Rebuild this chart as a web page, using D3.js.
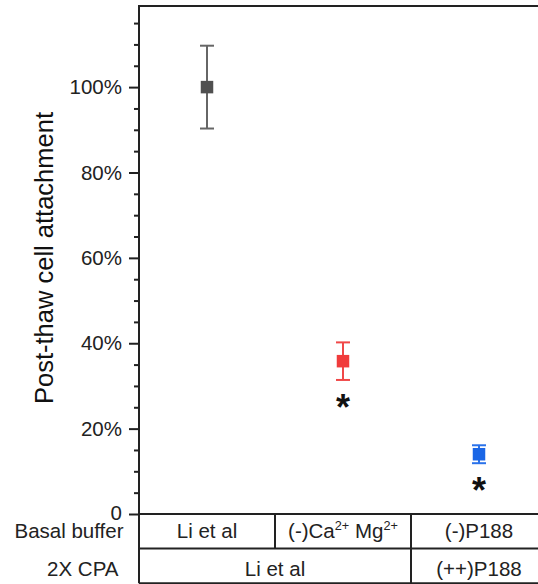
<!DOCTYPE html>
<html>
<head>
<meta charset="utf-8">
<script src="https://cdn.jsdelivr.net/npm/d3@7"></script>
<style>
  html, body { margin: 0; padding: 0; background: #fff; }
  svg { display: block; font-family: "Liberation Sans", Arial, sans-serif; }
</style>
</head>
<body>
<svg id="chart" width="538" height="584"></svg>
<script>
// Groups along the x axis (basal buffer condition)
const groups = ["Li et al", "(-)Ca2+ Mg2+", "(-)P188"];
// Mean post-thaw attachment (%) and error (±%)
const means = [100, 35.8, 14.0];
const errors = [9.7, 4.4, 2.1];
const significant = [false, true, true];
const colors = ["#505050", "#f03c3c", "#1a66e6"];
const barColors = ["#666666", "#f04848", "#2a72ea"];

// Axis ticks
const majorTicks = [0, 20, 40, 60, 80, 100];
const majorLabels = ["0", "20%", "40%", "60%", "80%", "100%"];
const minorTicks = [5, 10, 15, 25, 30, 35, 45, 50, 55, 65, 70, 75, 85, 90, 95, 105, 110, 115];

// Condition table under the axis
const rowTitles = ["Basal buffer", "2X CPA"];
// Each cell spans a run of groups [first, last]
const basalCells = [
  { parts: [["Li et al", false]], from: 0, to: 0 },
  { parts: [["(-)Ca", false], ["2+", true], [" Mg", false], ["2+", true]], from: 1, to: 1 },
  { parts: [["(-)P188", false]], from: 2, to: 2 }
];
const cpaCells = [
  { parts: [["Li et al", false]], from: 0, to: 1 },
  { parts: [["(++)P188", false]], from: 2, to: 2 }
];

const svg = d3.select("#chart");
const plotLeft = 139, plotRight = 547, plotTop = 6, plotBottom = 514;
const rowH = 34.6;

const x = d3.scaleBand().domain(groups).range([plotLeft, plotRight]).padding(0);
const cx = i => x(groups[i]) + x.bandwidth() / 2;
const y = d3.scaleLinear().domain([0, 119]).range([plotBottom, plotTop]);

const labelFont = 20.5;

// Major ticks with labels
const majorAxis = d3.axisLeft(y)
  .tickValues(majorTicks)
  .tickSize(10)
  .tickPadding(7)
  .tickFormat((d, i) => majorLabels[i]);
const gMajor = svg.append("g").attr("transform", `translate(${plotLeft},0)`).call(majorAxis);
gMajor.select(".domain").remove();
gMajor.selectAll("line").attr("stroke", "#222").attr("stroke-width", 2);
gMajor.selectAll("text")
  .attr("font-family", "Liberation Sans, Arial, sans-serif")
  .attr("font-size", labelFont)
  .attr("fill", "#222");
// The zero label sits slightly raised above the table edge
gMajor.selectAll(".tick").filter(d => d === 0).select("text").attr("dy", "0.25em");

// Minor ticks
const minorAxis = d3.axisLeft(y).tickValues(minorTicks).tickSize(5).tickFormat("");
const gMinor = svg.append("g").attr("transform", `translate(${plotLeft},0)`).call(minorAxis);
gMinor.select(".domain").remove();
gMinor.selectAll("line").attr("stroke", "#222").attr("stroke-width", 2);

// Frame: top, left (running through the table) and table grid lines
const frame = svg.append("g").attr("stroke", "#222").attr("stroke-width", 2).attr("fill", "none");
frame.append("line").attr("x1", plotLeft - 1).attr("x2", plotRight).attr("y1", plotTop).attr("y2", plotTop);
frame.append("line").attr("x1", plotLeft).attr("x2", plotLeft).attr("y1", plotTop).attr("y2", plotBottom + 2 * rowH);
frame.append("line").attr("x1", plotRight).attr("x2", plotRight).attr("y1", plotTop).attr("y2", plotBottom + 2 * rowH);
[0, 1, 2].forEach(r => {
  frame.append("line").attr("x1", plotLeft).attr("x2", plotRight)
    .attr("y1", plotBottom + r * rowH).attr("y2", plotBottom + r * rowH);
});

function drawRow(cells, rowIndex, baseline) {
  cells.forEach((c, k) => {
    const x0 = x(groups[c.from]);
    const x1 = x(groups[c.to]) + x.bandwidth();
    if (k > 0) {
      frame.append("line").attr("x1", x0).attr("x2", x0)
        .attr("y1", plotBottom + rowIndex * rowH).attr("y2", plotBottom + (rowIndex + 1) * rowH);
    }
    const t = svg.append("text")
      .attr("x", (x0 + x1) / 2)
      .attr("y", baseline)
      .attr("text-anchor", "middle")
      .attr("font-size", labelFont)
      .attr("fill", "#222");
    c.parts.forEach(([s, sup]) => {
      const ts = t.append("tspan").text(s);
      if (sup) ts.attr("font-size", labelFont * 0.62).attr("baseline-shift", "60%");
    });
  });
}
drawRow(basalCells, 0, 537.5);
drawRow(cpaCells, 1, 575.5);

// Row titles, right-aligned left of the table
svg.append("text").attr("x", 123.5).attr("y", 537.5).attr("text-anchor", "end")
  .attr("font-size", labelFont).attr("fill", "#222").text(rowTitles[0]);
svg.append("text").attr("x", 118.5).attr("y", 575.5).attr("text-anchor", "end")
  .attr("font-size", labelFont).attr("fill", "#222").text(rowTitles[1]);

// Y axis title
svg.append("text")
  .attr("transform", `translate(53,258) rotate(-90)`)
  .attr("text-anchor", "middle")
  .attr("font-size", 25.5)
  .attr("fill", "#111")
  .text("Post-thaw cell attachment");

// Error bars and square markers
const capW = 14, sq = 12.5;
const pts = svg.append("g");
means.forEach((m, i) => {
  const g = pts.append("g").attr("stroke", barColors[i]).attr("stroke-width", 2);
  g.append("line").attr("x1", cx(i)).attr("x2", cx(i))
    .attr("y1", y(m + errors[i])).attr("y2", y(m - errors[i]));
  [m + errors[i], m - errors[i]].forEach(v => {
    g.append("line").attr("x1", cx(i) - capW / 2).attr("x2", cx(i) + capW / 2)
      .attr("y1", y(v)).attr("y2", y(v));
  });
  pts.append("rect")
    .attr("x", cx(i) - sq / 2).attr("y", y(m) - sq / 2)
    .attr("width", sq).attr("height", sq)
    .attr("fill", colors[i]);
  if (significant[i]) {
    svg.append("text")
      .attr("x", cx(i))
      .attr("y", y(m - errors[i]) + 40)
      .attr("text-anchor", "middle")
      .attr("font-size", 36)
      .attr("font-weight", "bold")
      .attr("fill", "#111")
      .text("*");
  }
});
</script>
</body>
</html>
